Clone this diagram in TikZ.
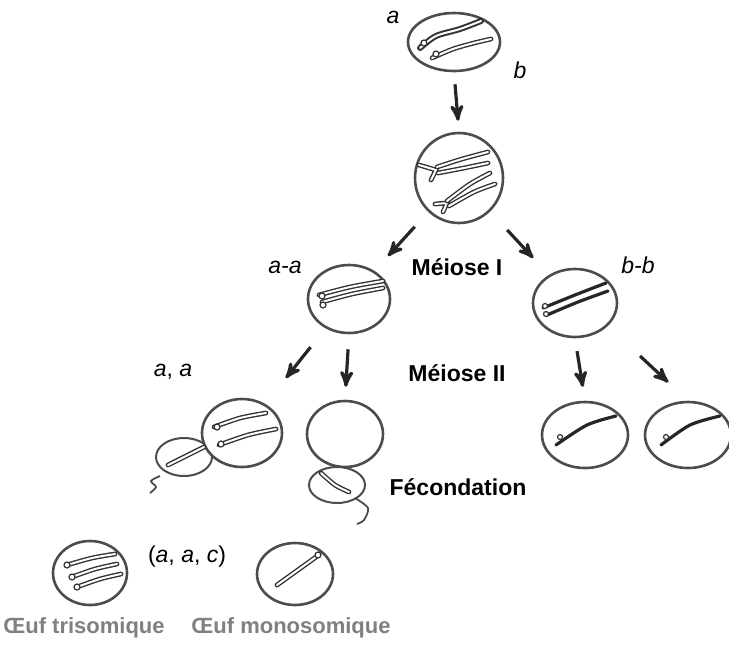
\documentclass[tikz,border=0pt]{standalone}
\usepackage{fontspec}
\setmainfont{Liberation Sans}
\usepackage{tikz}
\usetikzlibrary{arrows,shapes.geometric}
\newcommand{\lblsize}{\fontsize{11.5}{13}\selectfont}
\tikzset{
    %Define standard arrow tip
    >=stealth',
    %Define style for cells
    cell/.style={
           ellipse,
           draw=black!70, line width=1.3pt,
           inner sep=0pt,
           fill=white},
    sperm/.style={
           cell,
           line width=1pt},
    %Define style for chromosomes
    chrom/.style={
           draw=black!80, line width=0.7pt,
           double=white, double distance=1pt,
           line cap=round},
    chromdark/.style={
           draw=black!85, line width=1.6pt,
           line cap=round},
    centro/.style={
           draw=black!80, line width=0.6pt,
           fill=white},
    tail/.style={
           draw=black!70, line width=0.9pt},
    % Define arrow style
    pil/.style={
           ->,
           draw=black!85,
           line width=1.6pt},
    lbl/.style={font=\lblsize\itshape},
    phase/.style={font=\lblsize\bfseries},
    egg/.style={font=\fontsize{11}{13}\selectfont\bfseries, text=black!50}
}
\begin{document}
\begin{tikzpicture}[x=0.5pt,y=-0.5pt,font=\lblsize]
\useasboundingbox (0,0) rectangle (729,644);

 %cells
\node[cell, minimum width=46pt, minimum height=29pt] (c1) at (454,42) {};
\node[cell, minimum width=44pt, minimum height=45pt] (c2) at (459,178) {};
\node[cell, minimum width=41pt, minimum height=34pt] (c3) at (349,299) {};
\node[cell, minimum width=42pt, minimum height=34pt] (c4) at (575,303) {};
\node[sperm, minimum width=28pt, minimum height=19pt] (s5) at (184,457) {};
\node[cell, minimum width=40pt, minimum height=34pt] (c5) at (242,433) {};
\node[cell, minimum width=38pt, minimum height=33pt] (c6) at (345,434) {};
\node[sperm, minimum width=28pt, minimum height=18pt] (s6) at (337,485) {};
\node[cell, minimum width=43pt, minimum height=33pt] (c7) at (585,435) {};
\node[cell, minimum width=43pt, minimum height=33pt] (c8) at (688,435) {};
\node[cell, minimum width=37pt, minimum height=32pt] (tri) at (90,573) {};
\node[cell, minimum width=38pt, minimum height=31pt] (mono) at (295,574) {};

 %chromosomes
\draw[chrom, line width=1pt] plot[smooth] coordinates {(420,48) (436,36) (460,29) (481,21)};
\draw[chrom] plot[smooth] coordinates {(432,58) (453,49) (474,43) (491,39)};
\draw[centro] (424,43) circle (3);
\draw[centro] (436,54) circle (3);

\draw[chrom] (419,165) -- (436,170) -- (431,180);
\draw[chrom] plot[smooth] coordinates {(437,167) (462,159) (488,152)};
\draw[chrom] plot[smooth] coordinates {(438,173) (464,168) (488,163)};
\draw[chrom] (435,204) -- (447,203) -- (443,212);
\draw[chrom] plot[smooth] coordinates {(447,201) (470,184) (490,173)};
\draw[chrom] plot[smooth] coordinates {(449,206) (474,192) (495,184)};

\draw[chrom] plot[smooth] coordinates {(319,295) (350,287) (383,281)};
\draw[chrom] plot[smooth] coordinates {(322,302) (352,294) (383,288)};
\draw[centro] (322,296) circle (3);
\draw[centro] (323,305) circle (3);

\draw[chromdark] plot[smooth] coordinates {(543,308) (575,295) (606,283)};
\draw[chromdark] plot[smooth] coordinates {(547,315) (578,302) (608,291)};
\draw[centro] (545,306) circle (2.5);
\draw[centro] (546,314) circle (2.5);

\draw[chrom] plot[smooth] coordinates {(214,427) (240,418) (266,413)};
\draw[chrom] plot[smooth] coordinates {(219,445) (248,435) (276,429)};
\draw[centro] (217,427) circle (3);
\draw[centro] (221,444) circle (3);
\draw[chrom] (168,465) -- (204,447);
\draw[tail] plot[smooth] coordinates {(160,476) (151,481) (156,487) (150,493)};

\draw[chrom] plot[smooth] coordinates {(321,473) (335,485) (349,492)};
\draw[tail] plot[smooth] coordinates {(355,498) (368,508) (364,520) (357,524)};

\draw[chromdark] plot[smooth] coordinates {(556,445) (587,425) (616,416)};
\draw[centro] (560,437) circle (2.5);
\draw[chromdark] plot[smooth] coordinates {(661,445) (690,425) (720,416)};
\draw[centro] (666,437) circle (2.5);

\draw[chrom] plot[smooth] coordinates {(67,565) (92,558) (115,554)};
\draw[chrom] plot[smooth] coordinates {(72,577) (95,569) (117,564)};
\draw[chrom] plot[smooth] coordinates {(77,587) (100,579) (121,574)};
\draw[centro] (67,565) circle (3);
\draw[centro] (72,577) circle (3);
\draw[centro] (77,587) circle (3);

\draw[chrom] (277,585) -- (316,557);
\draw[centro] (318,555) circle (3);

 %arrows
\draw[pil, shorten <=6pt, shorten >=5.5pt] (c1.south) -- (c2.north);
\draw[pil, shorten <=10pt, shorten >=10pt] (c2) -- (c3);
\draw[pil, shorten <=12.5pt, shorten >=11.5pt] (c2) -- (c4);
\draw[pil, shorten <=12pt, shorten >=16.5pt] (c3) -- (c5);
\draw[pil, shorten <=7.5pt, shorten >=6.5pt] (c3.south) -- (c6.north);
\draw[pil, shorten <=6.5pt, shorten >=7pt] (c4.south) -- (c7.north);
\draw[pil, shorten <=22pt, shorten >=13.5pt] (c4.-35) -- (c8.north);

 %labels
\node[lbl] (la) at (393,17) {a};
\node[lbl] (lb) at (520,70) {b};
\node[lbl] (laa) at (285,267) {a-a};
\node[phase] (m1) at (457,267) {Méiose I};
\node[lbl] (lbb) at (638,265) {b-b};
\node (la2) at (173,372) {\textit{a}, \textit{a}};
\node[phase] (m2) at (457,373) {Méiose II};
\node[phase] (fec) at (458,487) {Fécondation};
\node (lac) at (187,557) {(\textit{a}, \textit{a}, \textit{c})};
\node[egg] (etri) at (84,628) {Œuf trisomique};
\node[egg] (emono) at (291,628) {Œuf monosomique};

\end{tikzpicture}
\end{document}
